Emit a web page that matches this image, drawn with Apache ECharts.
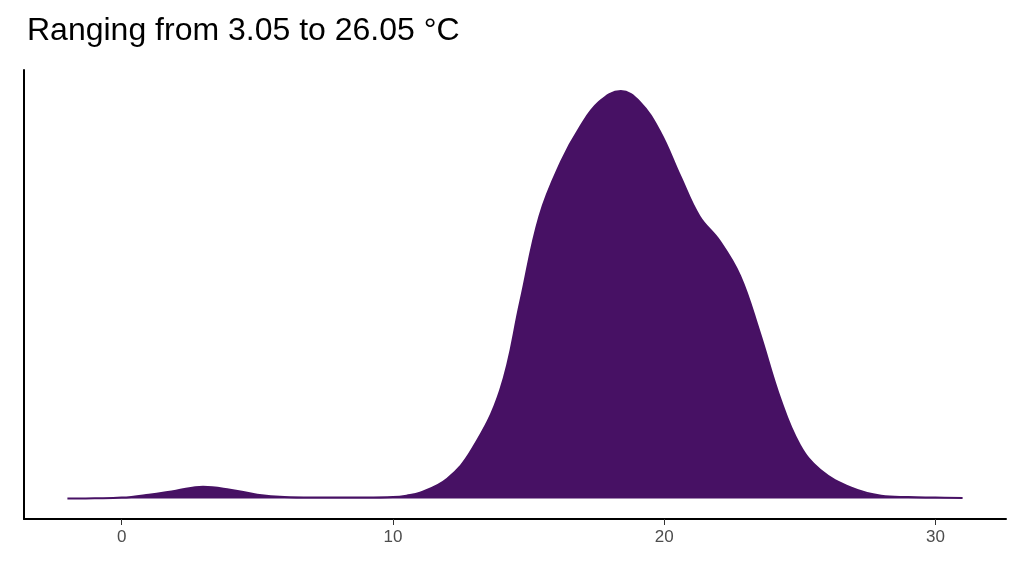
<!DOCTYPE html>
<html><head><meta charset="utf-8">
<script src="https://cdn.jsdelivr.net/npm/echarts@6/dist/echarts.min.js"></script>
<style>html,body{margin:0;padding:0;background:#fff}#c{width:1024px;height:576px}</style>
</head><body><div id="c"></div>
<script>
const titleText = "Ranging from 3.05 to 26.05 °C";
const xs = [-2,-1,0,1,2,3,4,5,6,7,8,9,10,10.5,11,12,12.9,13.95,14.7,15.4,16.2,16.9,17.6,18.4,19.1,19.85,20.6,21.3,22.05,22.8,23.5,24.3,25,25.75,26.9,28,29,30,31];
const density = [0,0.3,1,4,8,12,9,4,1.5,1,1,1,1.5,3,6,20,49,109,199,284,339,374,399,410,399,369,324,284,259,224,169,99,54,29,11,3,1.5,1,0.5];
const xTicks = [0,10,20,30];
const data = xs.map((x,i)=>[x,density[i]]);
const chart = echarts.init(document.getElementById('c'));
chart.setOption({
  animation:false,
  title:{text:titleText,left:22,top:10,textStyle:{fontSize:32,fontWeight:'normal',color:'#000',fontFamily:'Liberation Sans, Arial'}},
  grid:{left:24,right:18,top:70,bottom:57},
  xAxis:{type:'value',min:-3.6,max:32.6,splitLine:{show:false},
    axisLine:{onZero:false,lineStyle:{color:'#000',width:2}},
    axisTick:{show:true,length:6,customValues:xTicks,lineStyle:{color:'#333'}},
    axisLabel:{color:'#4d4d4d',fontSize:17,fontFamily:'Liberation Sans, Arial',margin:10,customValues:xTicks}},
  yAxis:{type:'value',min:-20.5,max:431,splitLine:{show:false},
    axisLine:{show:true,onZero:false,lineStyle:{color:'#000',width:2}},axisTick:{show:false},axisLabel:{show:false}},
  series:[{type:'line',data:data,smooth:0.4,symbol:'none',
    lineStyle:{color:'#471164',width:2},areaStyle:{color:'#471164',opacity:1,origin:0}}]
});
</script></body></html>
